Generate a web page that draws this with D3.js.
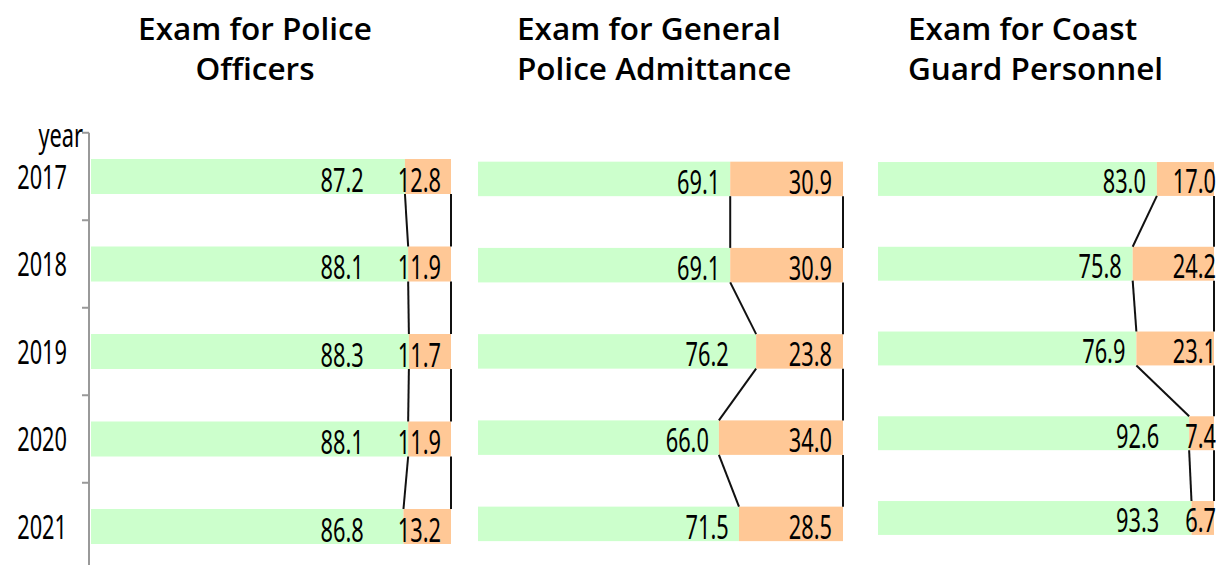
<!DOCTYPE html>
<html>
<head>
<meta charset="utf-8">
<script src="https://cdn.jsdelivr.net/npm/d3@7"></script>
<style>
  body { margin: 0; background: #fff; }
  svg { display: block; }
</style>
</head>
<body>
<div id="chart"></div>
<script>
// dati
const years = ["2017", "2018", "2019", "2020", "2021"];
const policePass = [87.2, 88.1, 88.3, 88.1, 86.8];
const policeFail = [12.8, 11.9, 11.7, 11.9, 13.2];
const generalPass = [69.1, 69.1, 76.2, 66.0, 71.5];
const generalFail = [30.9, 30.9, 23.8, 34.0, 28.5];
const coastPass = [83.0, 75.8, 76.9, 92.6, 93.3];
const coastFail = [17.0, 24.2, 23.1, 7.4, 6.7];

const width = 1228, height = 565;
const green = "#ccffcc", orange = "#ffc896";
const numFont = "'Noto Sans', sans-serif";
const squeeze = 0.66;

// layout dei pannelli
const panels = [
  { title: ["Exam for Police", "Officers"], anchor: "middle", tx: 255,
    pass: policePass, fail: policeFail,
    x: [91, 451], y: [132.75, 570.25], gPad: 10, oPad: 10, gap: 34 },
  { title: ["Exam for General", "Police Admittance"], anchor: "start", tx: 517,
    pass: generalPass, fail: generalFail,
    x: [478, 843], y: [135.8, 567], gPad: 10, oPad: 11, gap: 60 },
  { title: ["Exam for Coast", "Guard Personnel"], anchor: "start", tx: 908,
    pass: coastPass, fail: coastFail,
    x: [878, 1214], y: [136.6, 560.35], gPad: 11, oPad: -2, gap: 26 }
];

const svg = d3.select("#chart").append("svg")
  .attr("width", width).attr("height", height);

// testo "stretto" come nel riferimento
function narrowText(g, x, y, txt, anchor, size) {
  return g.append("text")
    .attr("transform", `translate(${x},${y}) scale(${squeeze},1)`)
    .attr("text-anchor", anchor)
    .attr("font-family", numFont)
    .attr("font-size", size)
    .attr("fill", "#000")
    .text(txt);
}

function textW(txt, size) {
  const t = svg.append("text").attr("font-family", numFont).attr("font-size", size).text(txt);
  const w = t.node().getComputedTextLength() * squeeze;
  t.remove();
  return w;
}

panels.forEach((p, pi) => {
  const g = svg.append("g");
  const x = d3.scaleLinear().domain([0, 100]).range(p.x);
  const y = d3.scaleBand().domain(years).range(p.y).paddingInner(0.6).paddingOuter(0.3);
  const bh = y.bandwidth();

  // titolo
  p.title.forEach((line, li) => {
    g.append("text")
      .attr("x", p.tx).attr("y", 40 + li * 40)
      .attr("text-anchor", p.anchor)
      .attr("font-family", "'Open Sans', sans-serif")
      .attr("font-weight", 600)
      .attr("font-size", 31.5)
      .attr("fill", "#000")
      .text(line);
  });

  // barre
  years.forEach((yr, i) => {
    const top = y(yr);
    const b = x(p.pass[i]);
    g.append("rect").attr("x", x(0)).attr("y", top).attr("width", b - x(0)).attr("height", bh).attr("fill", green);
    g.append("rect").attr("x", b).attr("y", top).attr("width", x(100) - b).attr("height", bh).attr("fill", orange);

    const base = top + bh - 2.5;
    const fTxt = p.fail[i].toFixed(1), gTxt = p.pass[i].toFixed(1);
    const fEnd = x(100) - p.oPad;
    const fStart = fEnd - textW(fTxt, 33);
    narrowText(g, fEnd, base, fTxt, "end", 33);
    const gEnd = Math.min(b - p.gPad, fStart - p.gap);
    narrowText(g, gEnd, base, gTxt, "end", 33);
  });

  // linee di collegamento
  for (let i = 0; i < years.length - 1; i++) {
    const y0 = y(years[i]) + bh, y1 = y(years[i + 1]);
    g.append("line")
      .attr("x1", x(p.pass[i])).attr("y1", y0)
      .attr("x2", x(p.pass[i + 1])).attr("y2", y1)
      .attr("stroke", "#111").attr("stroke-width", 2);
    g.append("line")
      .attr("x1", x(100)).attr("y1", y0)
      .attr("x2", x(100)).attr("y2", y1)
      .attr("stroke", "#111").attr("stroke-width", 2);
  }

  // asse y solo sul primo pannello
  if (pi === 0) {
    const ax = 89;
    const step = y.step();
    g.append("line").attr("x1", ax).attr("x2", ax)
      .attr("y1", p.y[0]).attr("y2", p.y[1])
      .attr("stroke", "#999").attr("stroke-width", 2);
    d3.range(years.length).forEach(k => {
      g.append("line").attr("x1", ax - 7).attr("x2", ax)
        .attr("y1", p.y[0] + k * step).attr("y2", p.y[0] + k * step)
        .attr("stroke", "#999").attr("stroke-width", 2);
    });
    years.forEach(yr => {
      narrowText(g, 67, y(yr) + bh / 2 + 12, yr, "end", 33);
    });
    narrowText(g, 83, p.y[0] + 14, "year", "end", 33);
  }
});
</script>
</body>
</html>
